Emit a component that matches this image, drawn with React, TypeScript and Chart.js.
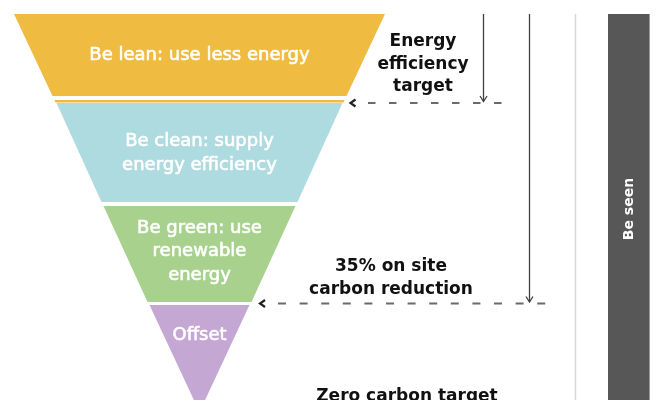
import React, { useEffect, useRef } from "react";
import { Chart, registerables } from "chart.js";

Chart.register(...registerables);

// ---- data ----
const levelLabels = [
  ["Be lean: use less energy"],
  ["Be clean: supply", "energy efficiency"],
  ["Be green: use", "renewable", "energy"],
  ["Offset"],
];
const levelTop = [14, 103, 206, 305];
const levelBottom = [96, 202, 302, 412];
const levelTopWidth = [371, 286, 192, 100];
const levelBottomWidth = [294, 196, 104, 0];
const levelColors = ["#EFBB40", "#ADDBE0", "#A9D18E", "#C4A8D3"];

const efficiencyNote = ["Energy", "efficiency", "target"];
const onsiteNote = ["35% on site", "carbon reduction"];
const zeroNote = ["Zero carbon target"];
const sideLabel = "Be seen";

// ---- layout ----
const W = 657;
const H = 400;
const CX = 199.5;
const TOP = 14;
const efficiencyLevelY = 103;
const onsiteLevelY = 303.5;

function trapezoid(top: number, bottom: number, tw: number, bw: number) {
  return [
    { x: CX - tw / 2, y: top },
    { x: CX + tw / 2, y: top },
    { x: CX + bw / 2, y: bottom },
    { x: CX - bw / 2, y: bottom },
  ];
}
function rect(x0: number, y0: number, x1: number, y1: number) {
  return [
    { x: x0, y: y0 },
    { x: x1, y: y0 },
    { x: x1, y: y1 },
    { x: x0, y: y1 },
  ];
}

const shapeDs = (data: any[], color: string) => ({
  type: "line" as const,
  data,
  fill: "shape",
  backgroundColor: color,
  borderWidth: 0,
  borderColor: "rgba(0,0,0,0)",
  pointRadius: 0,
  tension: 0,
});
const lineDs = (data: any[], color: string, width: number, dash: number[] = []) => ({
  type: "line" as const,
  data,
  fill: false,
  borderColor: color,
  borderWidth: width,
  borderDash: dash,
  borderCapStyle: "butt" as const,
  borderJoinStyle: "miter" as const,
  pointRadius: 0,
  tension: 0,
});

const textPlugin = {
  id: "diagramText",
  afterDatasetsDraw(chart: any) {
    const { ctx } = chart;
    const xs = chart.scales.x;
    const ys = chart.scales.y;
    const px = (v: number) => xs.getPixelForValue(v);
    const py = (v: number) => ys.getPixelForValue(v);
    ctx.save();
    ctx.textAlign = "center";
    ctx.textBaseline = "middle";

    const block = (
      lines: string[],
      x: number,
      yc: number,
      lh: number,
      font: string,
      color: string,
      stroke = 0
    ) => {
      ctx.font = font;
      ctx.fillStyle = color;
      ctx.strokeStyle = color;
      ctx.lineWidth = stroke;
      ctx.lineJoin = "round";
      const start = yc - ((lines.length - 1) * lh) / 2;
      lines.forEach((l, i) => {
        ctx.fillText(l, px(x), py(start + i * lh));
        if (stroke > 0) ctx.strokeText(l, px(x), py(start + i * lh));
      });
    };

    const whiteFont = '18px "DejaVu Sans"';
    const levelCenters = [55, 153.5, 251.5, 335];
    levelLabels.forEach((lines, i) => block(lines, CX, levelCenters[i], 23.5, whiteFont, "#ffffff", 0.6));

    const blackFont = 'bold 17px "DejaVu Sans"';
    block(efficiencyNote, 423, 64.5, 22.5, blackFont, "#111111");
    block(onsiteNote, 391, 278.5, 23, blackFont, "#111111");
    block(zeroNote, 407, 397, 23, blackFont, "#111111");

    ctx.save();
    ctx.translate(px(629.5), py(209));
    ctx.rotate(-Math.PI / 2);
    ctx.font = 'bold 14px "DejaVu Sans"';
    ctx.fillStyle = "#ffffff";
    ctx.fillText(sideLabel, 0, 0);
    ctx.restore();

    ctx.restore();
  },
};

export default function App() {
  const ref = useRef<HTMLCanvasElement>(null);
  useEffect(() => {
    document.body.style.margin = "0";
    const datasets: any[] = [];
    levelLabels.forEach((_, i) => {
      datasets.push(
        shapeDs(trapezoid(levelTop[i], levelBottom[i], levelTopWidth[i], levelBottomWidth[i]), levelColors[i])
      );
    });
    // thin orange band below the first level
    datasets.push(shapeDs(trapezoid(100, 102.6, 290, 288), levelColors[0]));
    // side bar and light rule
    datasets.push(shapeDs(rect(608, TOP, 649, H + 5), "#575757"));
    datasets.push(lineDs([{ x: 649.5, y: TOP }, { x: 649.5, y: H + 5 }], "#9a9a9a", 1));
    datasets.push(lineDs([{ x: 575.5, y: TOP }, { x: 575.5, y: H + 5 }], "#d6d6d6", 1.5));
    // vertical arrows
    datasets.push(lineDs([{ x: 483.5, y: TOP }, { x: 483.5, y: efficiencyLevelY - 2 }], "#404040", 1.3));
    datasets.push(lineDs([{ x: 480, y: 96 }, { x: 483.5, y: 101.5 }, { x: 487, y: 96 }], "#404040", 1.3));
    datasets.push(lineDs([{ x: 529.5, y: TOP }, { x: 529.5, y: onsiteLevelY - 2 }], "#404040", 1.3));
    datasets.push(lineDs([{ x: 526, y: 296.5 }, { x: 529.5, y: 302 }, { x: 533, y: 296.5 }], "#404040", 1.3));
    // dashed level lines
    datasets.push(lineDs([{ x: 368, y: efficiencyLevelY }, { x: 507, y: efficiencyLevelY }], "#6a6a6a", 1.8, [7.5, 13.5]));
    datasets.push(lineDs([{ x: 278, y: onsiteLevelY }, { x: 552, y: onsiteLevelY }], "#6a6a6a", 1.8, [8, 13.6]));
    // chevrons
    datasets.push(lineDs([{ x: 355.5, y: 99.5 }, { x: 350.5, y: efficiencyLevelY }, { x: 355.5, y: 106.5 }], "#222222", 2.2));
    datasets.push(lineDs([{ x: 265, y: 300 }, { x: 260, y: onsiteLevelY }, { x: 265, y: 307 }], "#222222", 2.2));

    const chart = new Chart(ref.current!, {
      type: "line",
      data: { datasets },
      options: {
        responsive: false,
        maintainAspectRatio: false,
        animation: false,
        devicePixelRatio: 1,
        layout: { padding: 0 },
        plugins: { legend: { display: false }, tooltip: { enabled: false } },
        scales: {
          x: { type: "linear", min: 0, max: W, display: false },
          y: { type: "linear", min: 0, max: H, reverse: true, display: false },
        },
        elements: { point: { radius: 0 } },
      },
      plugins: [textPlugin],
    } as any);
    return () => chart.destroy();
  }, []);
  return (
    <div style={{ position: "fixed", left: 0, top: 0, width: W, height: H, background: "#ffffff" }}>
      <canvas ref={ref} width={W} height={H} style={{ display: "block", width: W, height: H }} />
    </div>
  );
}
